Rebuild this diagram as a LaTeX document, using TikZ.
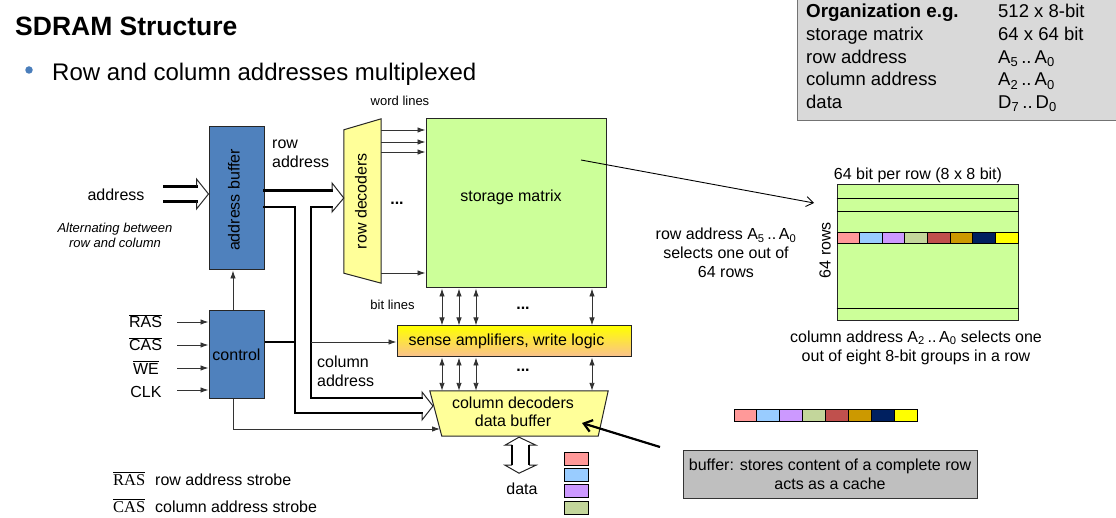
\documentclass[tikz,border=0pt]{standalone}
\usepackage{fontspec}
\setmainfont{Liberation Sans}
\newfontfamily\legendserif{Liberation Serif}
\usetikzlibrary{arrows.meta,calc}

\definecolor{blockblue}{HTML}{4F81BD}
\definecolor{decyellow}{HTML}{FFFF99}
\definecolor{cellgreen}{HTML}{CCFF99}
\definecolor{senseorange}{HTML}{FAC090}
\definecolor{orggray}{HTML}{D9D9D9}
\definecolor{notegray}{HTML}{BFBFBF}
\definecolor{dotblue}{HTML}{4A7EBB}
\definecolor{byteA}{HTML}{FF9999}
\definecolor{byteB}{HTML}{99CCFF}
\definecolor{byteC}{HTML}{CC99FF}
\definecolor{byteD}{HTML}{C3D69B}
\definecolor{byteE}{HTML}{C0504D}
\definecolor{byteF}{HTML}{CC9900}
\definecolor{byteG}{HTML}{002060}
\definecolor{byteH}{HTML}{FFFF00}

\newcommand{\ovl}[1]{$\overline{\mbox{#1}}$}
\newcommand{\idx}[2]{#1\textsubscript{#2}}

\begin{document}
\begin{tikzpicture}[x=1pt,y=-1pt,
  lbl/.style={font=\fontsize{16}{19}\selectfont, inner sep=0pt},
  smalllbl/.style={font=\fontsize{13}{15.5}\selectfont, inner sep=0pt},
  orgtxt/.style={font=\fontsize{18.5}{22}\selectfont, inner sep=0pt, anchor=base west},
  blk/.style={draw=black!85, line width=1pt},
  wire/.style={draw=black!80, line width=0.9pt},
  tip/.style={-{Latex[length=8pt,width=5.5pt]}},
  dtip/.style={{Latex[length=8pt,width=5.5pt]}-{Latex[length=8pt,width=5.5pt]}},
  bus/.style={line width=2.4pt, black, line cap=rect},
  headline/.style={line width=1pt, black!85, line join=miter},
  cell/.style={draw=black, line width=0.8pt}]

\useasboundingbox (0,0) rectangle (1116,518);
\fill[white] (0,0) rectangle (1116,518);

% heading and bullet
\node[anchor=base west, inner sep=0pt, font=\bfseries\fontsize{26.5}{30}\selectfont] (title) at (15,36) {SDRAM Structure};
\node[circle, fill=dotblue, minimum size=7.5pt, inner sep=0pt] (dot) at (29,70) {};
\node[anchor=base west, inner sep=0pt, font=\fontsize{24}{29}\selectfont] (sub) at (52,81) {Row and column addresses multiplexed};

% organisation table
\node[draw=black!55, fill=orggray, line width=1pt, anchor=north west, minimum width=322pt, minimum height=122pt, inner sep=0pt] (org) at (797,-2) {};
\node[orgtxt, font=\bfseries\fontsize{18.8}{22}\selectfont] (o1a) at (806,18) {Organization e.g.};
\node[orgtxt] (o1b) at (998,18) {512 x 8-bit};
\node[orgtxt] (o2a) at (806,41) {storage matrix};
\node[orgtxt] (o2b) at (998,41) {64 x 64 bit};
\node[orgtxt] (o3a) at (806,63.5) {row address};
\node[orgtxt] (o3b) at (998,63.5) {\idx{A}{5}\,..\,\idx{A}{0}};
\node[orgtxt] (o4a) at (806,86) {column address};
\node[orgtxt] (o4b) at (998,86) {\idx{A}{2}\,..\,\idx{A}{0}};
\node[orgtxt] (o5a) at (806,108.5) {data};
\node[orgtxt] (o5b) at (998,108.5) {\idx{D}{7}\,..\,\idx{D}{0}};

% address buffer and control
\node[blk, fill=blockblue, minimum width=55pt, minimum height=143pt] (abuf) at (236.5,198.5) {};
\node[lbl, rotate=90] (abuflbl) at (234,200) {address buffer};
\node[blk, fill=blockblue, minimum width=55pt, minimum height=87pt, lbl] (ctrl) at (236.5,354.5) {control};

% external address input
\node[lbl] (addrlbl) at (116,195) {address};
\node[smalllbl, font=\itshape\fontsize{13}{15.5}\selectfont, align=center] (altlbl) at (115,235.5) {Alternating between\\row and column};
\coordinate (ain) at (164,194);
\draw[bus] ($(ain)+(0,-7.5)$) -- ($(abuf.west |- ain)+(-12,-7.5)$);
\draw[bus] ($(ain)+(0,7.5)$) -- ($(abuf.west |- ain)+(-12,7.5)$);
\draw[headline] ($(abuf.west |- ain)+(-12,-7.5)$) -- ++(0,-7.5) -- (abuf.west |- ain) -- ($(abuf.west |- ain)+(-12,15)$) -- ++(0,-7.5);

% control inputs
\node[lbl, anchor=base] (ras) at (145.5,328) {\ovl{RAS}};
\node[lbl, anchor=base] (cas) at (145.5,351) {\ovl{CAS}};
\node[lbl, anchor=base] (we)  at (146,374) {\ovl{WE}};
\node[lbl, anchor=base] (clk) at (146,397) {CLK};
\foreach \yy in {322,345,368,390}
  \draw[wire, tip] (177,\yy) -- (ctrl.west |- 0,\yy);

% control to address buffer
\draw[wire, tip] (ctrl.north -| 233,0) -- (abuf.south -| 233,0);

% row decoders
\node[minimum width=37pt, minimum height=164pt, inner sep=0pt] (rowdec) at (362.5,201) {};
\draw[blk, fill=decyellow] ($(rowdec.north west)+(0,11)$) -- (rowdec.north east) -- (rowdec.south east) -- ($(rowdec.south west)+(0,-10)$) -- cycle;
\node[lbl, rotate=90] (rowdeclbl) at (361,201) {row decoders};

% storage matrix
\node[blk, fill=cellgreen, minimum width=180pt, minimum height=169pt] (mat) at (516,203.5) {};
\node[lbl] (matlbl) at (511,197) {storage matrix};

% word lines
\node[smalllbl] (wordlbl) at (400,101) {word lines};
\foreach \yy in {130,142,152,273}
  \draw[wire, tip] (rowdec.east |- 0,\yy) -- (mat.west |- 0,\yy);
\node[lbl, font=\bfseries\fontsize{16}{19}\selectfont] (wdots) at (397,203) {...};

% sense amplifiers
\node[blk, top color=byteH, bottom color=senseorange, minimum width=234pt, minimum height=31pt] (sense) at (514,341.5) {};
\node[lbl] (senselbl) at (506.5,341) {sense amplifiers, write logic};

% column decoders
\node[minimum width=178pt, minimum height=45pt, inner sep=0pt] (coldec) at (519,413.5) {};
\draw[blk, fill=decyellow] (coldec.north west) -- (coldec.north east) -- ($(coldec.south east)+(-10,0)$) -- ($(coldec.south west)+(12,0)$) -- cycle;
\node[lbl, align=center, font=\fontsize{16}{18.5}\selectfont] (coldeclbl) at (513,412) {column decoders\\data buffer};

% bit lines
\node[smalllbl] (bitlbl) at (392.5,305) {bit lines};
\foreach \xx in {442,459,476,592} {
  \draw[wire, dtip] (mat.south -| \xx,0) -- (sense.north -| \xx,0);
  \draw[wire, dtip] (sense.south -| \xx,0) -- (coldec.north -| \xx,0);
}
\node[lbl, font=\bfseries\fontsize{16}{19}\selectfont] (bdots1) at (523,308) {...};
\node[lbl, font=\bfseries\fontsize{16}{19}\selectfont] (bdots2) at (523,370) {...};

% multiplexed address bus
\coordinate (rtop) at (332,190.5);
\coordinate (rbot) at (332,207);
\coordinate (cbr) at (422,398);
\draw[bus] (abuf.east |- rtop) -- (rtop);
\draw[bus] (abuf.east |- rbot) -- (295,207) -- (295,413) -- (422,413);
\draw[bus] (rbot) -- (311,207) -- (311,398) -- (cbr);
\draw[headline] (rtop) -- ++(0,-7.5) -- (rowdec.west |- 0,198) -- ($(rbot)+(0,5)$) -- (rbot);
\draw[headline] (cbr) -- ++(0,-6) -- (433,406) -- (422,420) -- (422,413);
\node[lbl, align=left, anchor=north west] (rowaddr) at (272,140) {row\\address};
\node[lbl, align=left, anchor=north west] (coladdr) at (317,356) {column\\address};

% control signals
\draw[bus, line cap=butt] (ctrl.east |- 0,342) -- (295,342);
\draw[wire, tip] (311,342) -- (sense.west |- 0,342);
\draw[wire, tip] (ctrl.south -| 233,0) -- (233,429) -- (440,429);

% data port
\begin{scope}[shift={(coldec.south)}]
  \draw[headline] (-7,9) -- (-14,9) -- (0,1) -- (17,9) -- (10,9);
  \draw[headline] (-7,29) -- (-14,29) -- (0,37) -- (17,29) -- (10,29);
  \draw[line width=2.2pt] (-7,9) -- (-7,29);
  \draw[line width=2.2pt] (10,9) -- (10,29);
\end{scope}
\node[lbl] (datalbl) at (522,489) {data};
\foreach \cc [count=\i from 0] in {byteA,byteB,byteC,byteD}
  \draw[cell, fill=\cc] (564,452+\i*16.4) rectangle ++(24,13);

% matrix detail on the right
\node[lbl] (rowbits) at (918,175) {64 bit per row (8 x 8 bit)};
\node[blk, fill=cellgreen, minimum width=181pt, minimum height=136pt] (rmat) at (927.5,253) {};
\draw[cell] (rmat.west |- 0,198) -- (rmat.east |- 0,198);
\draw[cell] (rmat.west |- 0,211) -- (rmat.east |- 0,211);
\draw[cell] (rmat.west |- 0,308) -- (rmat.east |- 0,308);
\foreach \cc [count=\i from 0] in {byteA,byteB,byteC,byteD,byteE,byteF,byteG,byteH}
  \draw[cell, fill=\cc] (837+\i*22.625,232) rectangle ++(22.625,11.5);
\node[lbl, rotate=90] (rowslbl) at (825,250) {64 rows};
\node[lbl, align=center] (rowsel) at (726,253) {row address \idx{A}{5}\,..\,\idx{A}{0}\\selects one out of\\64 rows};
\node[lbl, align=center] (colsel) at (916,347.5) {column address \idx{A}{2}\,..\,\idx{A}{0} selects one\\out of eight 8-bit groups in a row};
\coordinate (mpick) at (581,160);
\coordinate (rpick) at (814,203);
\draw[line width=0.9pt, -{Straight Barb[length=7pt,width=10pt]}] (mpick) -- (rpick);

% one row held in the buffer
\foreach \cc [count=\i from 0] in {byteA,byteB,byteC,byteD,byteE,byteF,byteG,byteH}
  \draw[cell, fill=\cc] (734+\i*22.875,409) rectangle ++(22.875,12);

% buffer note
\node[draw=black!80, line width=1pt, fill=notegray, minimum width=294pt, minimum height=48pt, lbl, align=center, font=\fontsize{16}{19}\selectfont] (note) at (830,474) {buffer: stores content of a complete row\\acts as a cache};
\coordinate (nstart) at (660,447);
\coordinate (nend) at (582,423);
\draw[line width=2.2pt, -{Straight Barb[length=8pt,width=12pt]}] (nstart) -- (nend);

% legend
\node[anchor=base west, inner sep=0pt, font=\legendserif\fontsize{16.5}{19}\selectfont] (lras) at (113,485) {\ovl{RAS}};
\node[lbl, anchor=base west] (lrastxt) at (155,485) {row address strobe};
\node[anchor=base west, inner sep=0pt, font=\legendserif\fontsize{16.5}{19}\selectfont] (lcas) at (113,512) {\ovl{CAS}};
\node[lbl, anchor=base west] (lcastxt) at (155,512) {column address strobe};
\end{tikzpicture}
\end{document}
